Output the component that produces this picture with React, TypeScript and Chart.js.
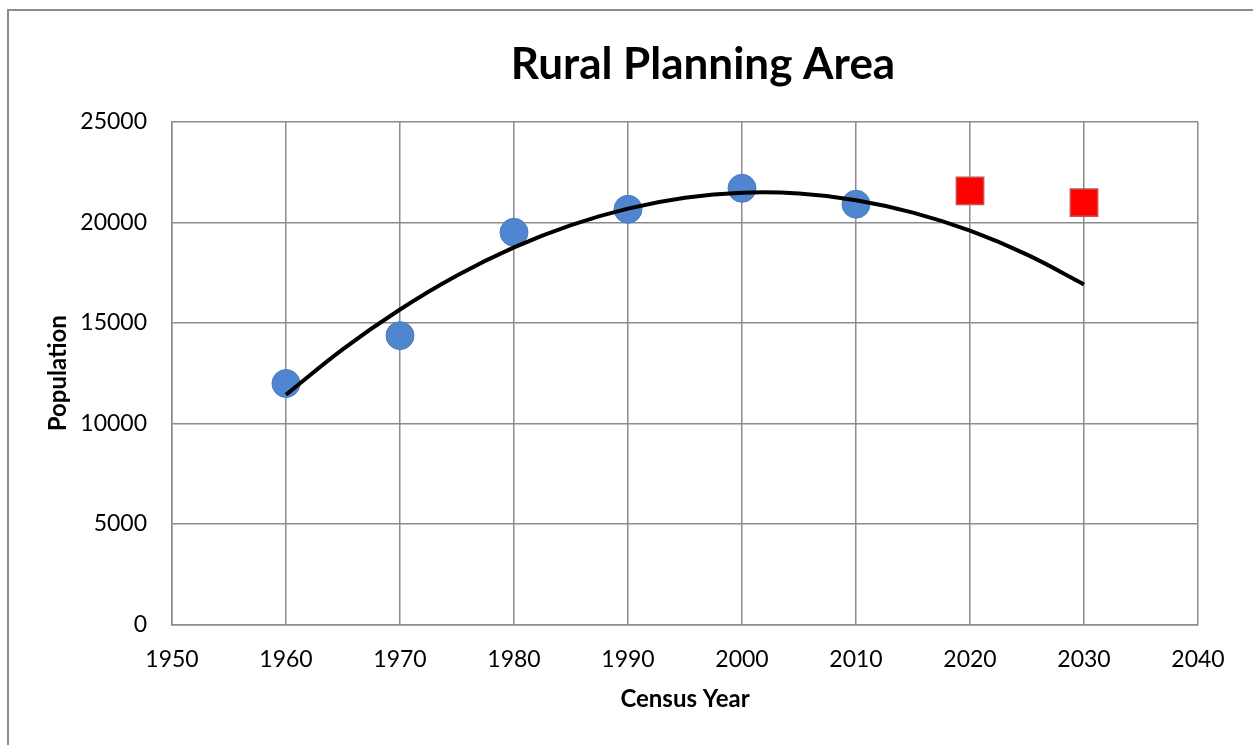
import React, { useEffect, useRef } from "react";
import { Chart, registerables } from "chart.js";

Chart.register(...registerables);

const chartTitle = "Rural Planning Area";
const xAxisTitle = "Census Year";
const yAxisTitle = "Population";

const censusYears = [1960, 1970, 1980, 1990, 2000, 2010];
const censusPopulation = [11990, 14370, 19510, 20660, 21700, 20910];

const projectionYears = [2020, 2030];
const projectedPopulation = [21570, 20985];

const trendYears = [1960, 1965, 1970, 1975, 1980, 1985, 1990, 1995, 2000, 2005, 2010, 2015, 2020, 2025, 2030];
const trendPopulation = [11430, 13700, 15670, 17360, 18760, 19870, 20690, 21230, 21480, 21440, 21110, 20490, 19590, 18400, 16920];

const xMin = 1950;
const xMax = 2040;
const xStep = 10;
const yMin = 0;
const yMax = 25000;
const yStep = 5000;

const FONT = "Lato, 'Open Sans', 'Noto Sans', sans-serif";
const GRID = "#8c8c8c";

const titlePlugin = {
  id: "customTitle",
  afterDraw(chart: any) {
    const ctx = chart.ctx;
    ctx.save();
    ctx.fillStyle = "#000";
    ctx.font = `bold 44px ${FONT}`;
    ctx.textAlign = "center";
    ctx.textBaseline = "alphabetic";
    ctx.fillText(chartTitle, 694, 68);
    ctx.restore();
  },
};

export default function App() {
  const ref = useRef<HTMLCanvasElement | null>(null);

  useEffect(() => {
    if (!ref.current) return;
    const toPts = (xs: number[], ys: number[]) => xs.map((x, i) => ({ x, y: ys[i] }));
    const chart = new Chart(ref.current, {
      type: "scatter",
      data: {
        datasets: [
          {
            label: "Trend",
            type: "line",
            data: toPts(trendYears, trendPopulation),
            borderColor: "#000000",
            borderWidth: 4,
            pointRadius: 0,
            fill: false,
            tension: 0.4,
            showLine: true,
            order: 0,
          } as any,
          {
            label: "Census",
            data: toPts(censusYears, censusPopulation),
            pointStyle: "circle",
            pointRadius: 14,
            backgroundColor: "#4f86cf",
            borderColor: "#4a7dc0",
            borderWidth: 1,
            order: 1,
          },
          {
            label: "Projection",
            data: toPts(projectionYears, projectedPopulation),
            pointStyle: "rect",
            pointRadius: 19.3,
            backgroundColor: "#ff0000",
            borderColor: "#c85050",
            borderWidth: 1.5,
            order: 2,
          },
        ],
      },
      options: {
        animation: false,
        responsive: false,
        layout: { padding: { top: 111, left: 0, right: 61, bottom: 0 } },
        plugins: {
          legend: { display: false },
          tooltip: { enabled: false },
          title: { display: false },
        },
        scales: {
          x: {
            type: "linear",
            min: xMin,
            max: xMax,
            ticks: {
              stepSize: xStep,
              color: "#000",
              padding: 21,
              font: { family: FONT, size: 23 },
              callback: (v: any) => String(v),
            },
            grid: { color: GRID, lineWidth: 1.5, drawTicks: false },
            border: { color: GRID, width: 1.5 },
            title: {
              display: true,
              text: xAxisTitle,
              color: "#000",
              font: { family: FONT, size: 24, weight: "bold" },
              padding: { top: 0, bottom: 31.6 },
            },
            afterFit: (s: any) => {
              s.height = 120.5;
            },
          },
          y: {
            type: "linear",
            min: yMin,
            max: yMax,
            ticks: {
              stepSize: yStep,
              color: "#000",
              padding: 25,
              font: { family: FONT, size: 23 },
              callback: (v: any) => String(v),
            },
            grid: { color: GRID, lineWidth: 1.5, drawTicks: false },
            border: { color: GRID, width: 1.5 },
            title: {
              display: true,
              text: yAxisTitle,
              color: "#000",
              font: { family: FONT, size: 24, weight: "bold" },
              padding: { top: 34.6, bottom: 0 },
            },
            afterFit: (s: any) => {
              s.width = 163;
            },
          },
        },
      },
      plugins: [titlePlugin],
    });
    return () => chart.destroy();
  }, []);

  return (
    <div
      style={{
        position: "fixed",
        left: 7,
        top: 9,
        width: 1250,
        height: 745,
        border: "2px solid #8c8c8c",
        background: "#fff",
        boxSizing: "content-box",
      }}
    >
      <canvas ref={ref} width={1250} height={734} style={{ display: "block", width: 1250, height: 734 }} />
    </div>
  );
}
